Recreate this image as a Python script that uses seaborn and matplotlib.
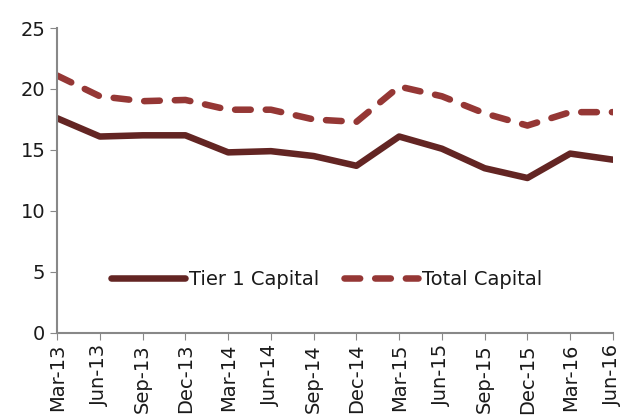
import matplotlib
matplotlib.use('Agg')
import matplotlib.pyplot as plt
import seaborn as sns
import pandas as pd

# données
quarters = ['Mar-13', 'Jun-13', 'Sep-13', 'Dec-13', 'Mar-14', 'Jun-14', 'Sep-14',
            'Dec-14', 'Mar-15', 'Jun-15', 'Sep-15', 'Dec-15', 'Mar-16', 'Jun-16']
tier1 = [17.6, 16.1, 16.2, 16.2, 14.8, 14.9, 14.5, 13.7, 16.1, 15.1, 13.5, 12.7, 14.7, 14.2]
total = [21.1, 19.4, 19.0, 19.1, 18.3, 18.3, 17.5, 17.3, 20.2, 19.4, 18.0, 17.0, 18.1, 18.1]

df = pd.DataFrame({'quarter': quarters, 'Tier 1 Capital': tier1, 'Total Capital': total})
df['pos'] = range(len(df))

sns.set_style('white')
plt.rcParams['font.family'] = ['DejaVu Sans']
plt.rcParams['text.color'] = '#1a1a1a'
plt.rcParams['xtick.labelcolor'] = '#1a1a1a'
plt.rcParams['ytick.labelcolor'] = '#1a1a1a'

fig, ax = plt.subplots(figsize=(6.28, 4.15), dpi=100)
fig.subplots_adjust(left=0.091, right=0.976, top=0.9325, bottom=0.198)

sns.lineplot(x='pos', y='Tier 1 Capital', data=df, ax=ax, color='#632523',
             linewidth=4.7, solid_capstyle='round', label='Tier 1 Capital')
sns.lineplot(x='pos', y='Total Capital', data=df, ax=ax, color='#953735',
             linewidth=4.7, dash_capstyle='round', label='Total Capital')
ax.lines[1].set_dashes([2.4, 2.3])

ax.set_xlim(0, len(df) - 1)
ax.set_ylim(0, 25)
ax.set_xticks(df['pos'])
ax.set_xticklabels(df['quarter'], rotation=90, fontsize=14)
ax.set_yticks(range(0, 26, 5))
ax.tick_params(axis='y', labelsize=14, length=5, color='#888888', direction='out', left=True)
ax.tick_params(axis='x', length=5, color='#888888', direction='out', bottom=True, pad=3)
ax.set_xlabel('')
ax.set_ylabel('')

for s in ['top', 'right']:
    ax.spines[s].set_visible(False)
for s in ['left', 'bottom']:
    ax.spines[s].set_color('#888888')
    ax.spines[s].set_linewidth(1.5)

leg = ax.legend(loc='center', bbox_to_anchor=(0.485, 0.174), ncol=2, frameon=False,
                fontsize=14, handlelength=3.8, handletextpad=0.2, columnspacing=1.3)
for h in leg.get_lines():
    h.set_dash_capstyle('round')
    h.set_solid_capstyle('round')

plt.savefig('out.png', dpi=100)
